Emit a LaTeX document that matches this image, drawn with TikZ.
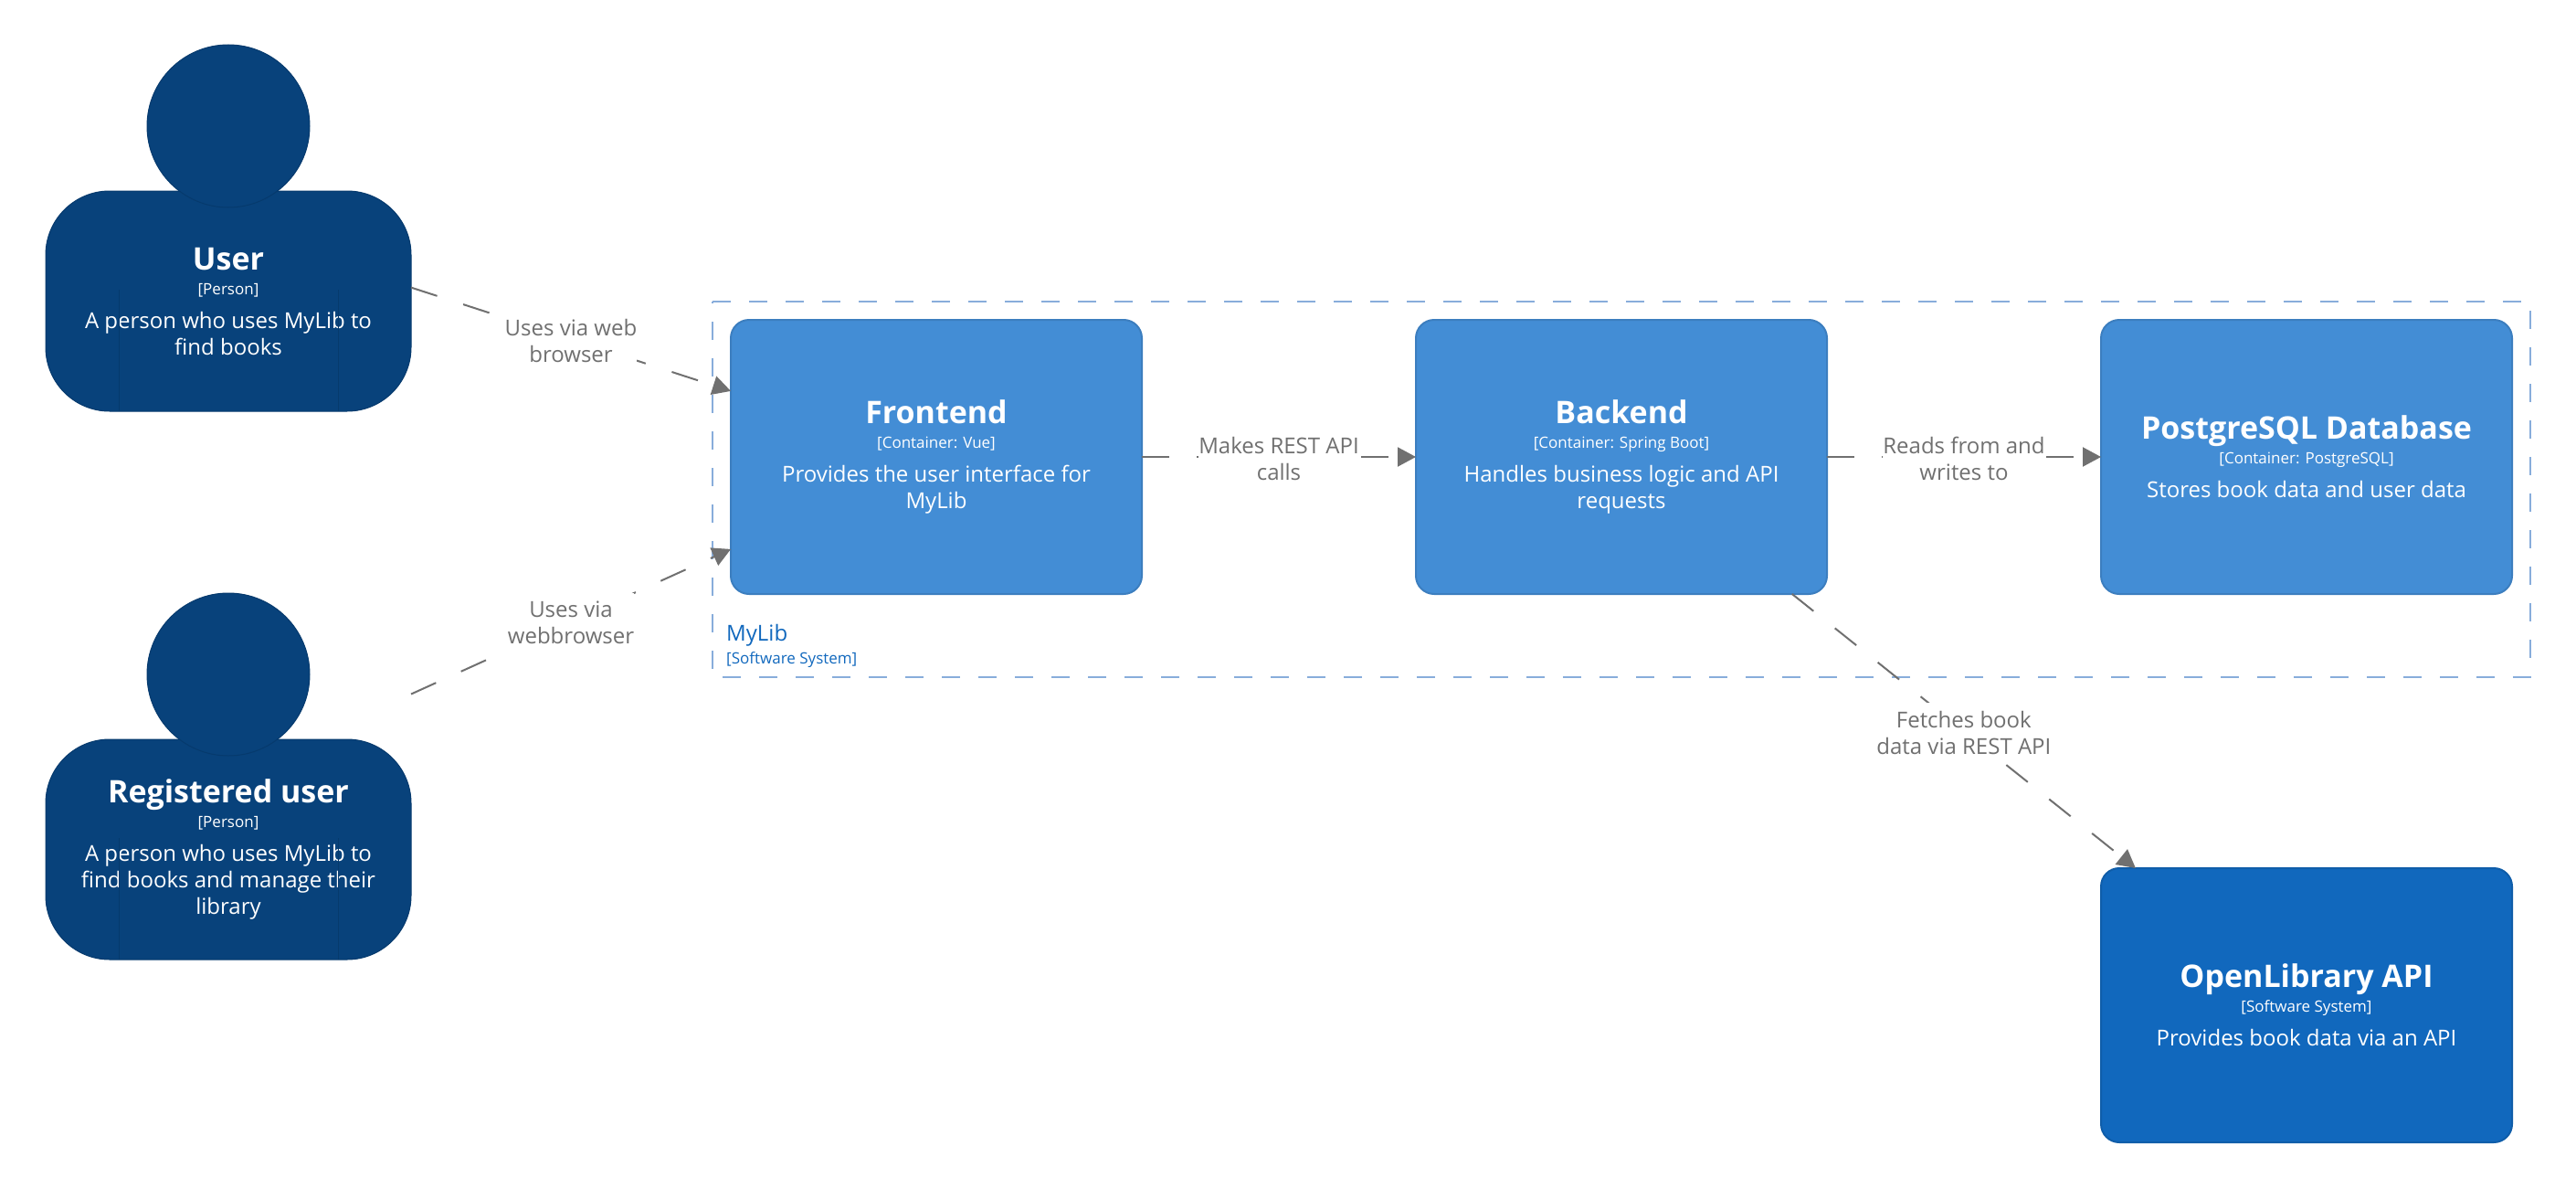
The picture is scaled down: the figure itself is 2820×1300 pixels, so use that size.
\documentclass[tikz,border=0pt]{standalone}
\usepackage{fontspec}
\setmainfont{Open Sans}
\usetikzlibrary{positioning,arrows.meta}

\definecolor{personblue}{HTML}{08427B}
\definecolor{personedge}{HTML}{063A6D}
\definecolor{contblue}{HTML}{438DD5}
\definecolor{contedge}{HTML}{3C7EBF}
\definecolor{sysblue}{HTML}{1168BD}
\definecolor{sysedge}{HTML}{0F5DA9}
\definecolor{groupedge}{HTML}{88ADDB}
\definecolor{linkgray}{HTML}{707070}

\newcommand{\fname}{\fontsize{34}{34}\selectfont\bfseries}
\newcommand{\fmeta}{\fontsize{17}{20}\selectfont}
\newcommand{\fdesc}{\fontsize{24}{29}\selectfont}
% name and type line, the description follows
\newcommand{\elemhead}[2]{\fname #1\\[-2pt] \fmeta #2\\[8pt]}

\tikzset{
  elembox/.style={rectangle,rounded corners=20pt,line width=2pt,text=white,align=center,font=\fdesc,
    inner sep=0pt,outer sep=0pt,minimum width=450pt,minimum height=300pt},
  container/.style={elembox,fill=contblue,draw=contedge},
  extsystem/.style={elembox,fill=sysblue,draw=sysedge},
  personarea/.style={rectangle,inner sep=0pt,outer sep=0pt,minimum width=400pt,minimum height=400pt},
  personbody/.style={rectangle,rounded corners=70pt,fill=personblue,draw=personedge,line width=1pt,font=\fdesc,
    text=white,align=center,inner sep=0pt,outer sep=0pt,minimum width=400pt,minimum height=241pt},
  personhead/.style={circle,fill=personblue,draw=personedge,line width=1pt,inner sep=0pt,minimum size=178pt},
  armline/.style={draw=personedge,line width=1pt},
  boundary/.style={draw=groupedge,line width=2pt,dash pattern=on 20pt off 20pt},
  link/.style={draw=linkgray,line width=2pt,dash pattern=on 30pt off 30pt,
    -{Triangle[length=20pt,width=21pt,fill=linkgray]}},
  linklabel/.style={fill=white,text=linkgray,align=center,inner xsep=0pt,inner ysep=0pt,minimum height=65pt,
    font=\fdesc,yshift=-1.5pt},
}

\begin{document}
\begin{tikzpicture}[x=1pt,y=-1pt]
\useasboundingbox (0,0) rectangle (2820,1300);

% Software system boundary
\draw[boundary] (780,330) -- (2770,330) -- (2770,741) -- (780,741) -- cycle;
\node[anchor=west,inner sep=0pt,text=sysblue,font=\fdesc] (mylibname) at (795,695) {MyLib};
\node[anchor=west,inner sep=0pt,text=sysblue,font=\fmeta] (mylibtype) at (795,722) {[Software System]};

% Persons
\node[personarea] (user) at (250,250) {};
\node[personbody] (userbody) at (250,329.5) {\elemhead{User}{[Person]}A person who uses MyLib to\\ find books};
\node[personhead] (userhead) at (250,138) {};
\draw[armline] (130,317) -- (130,450);
\draw[armline] (370,317) -- (370,450);

\node[personarea] (reguser) at (250,850) {};
\node[personbody] (regbody) at (250,929.5) {\elemhead{Registered user}{[Person]}A person who uses MyLib to\\ find books and manage their\\ library};
\node[personhead] (reghead) at (250,738) {};
\draw[armline] (130,917) -- (130,1050);
\draw[armline] (370,917) -- (370,1050);

% Containers
\node[container] (frontend) at (1025,500) {\elemhead{Frontend}{[Container: Vue]}Provides the user interface for\\ MyLib};
\node[container] (backend) at (1775,500) {\elemhead{Backend}{[Container: Spring Boot]}Handles business logic and API\\ requests};
\node[container] (database) at (2525,500) {\elemhead{PostgreSQL Database}{[Container: PostgreSQL]}Stores book data and user data};
\node[extsystem] (openlibrary) at (2525,1100) {\elemhead{OpenLibrary API}{[Software System]}Provides book data via an API};

% Relationships
\draw[link] (user) -- node[linklabel] (userlabel) {Uses via web\\ browser} (frontend);
\draw[link] (reguser) -- node[linklabel] (reglabel) {Uses via\\ webbrowser} (frontend);
\draw[link] (frontend) -- node[linklabel] (restlabel) {Makes REST API\\ calls} (backend);
\draw[link] (backend) -- node[linklabel] (dblabel) {Reads from and\\ writes to} (database);
\draw[link] (backend) -- node[linklabel] (fetchlabel) {Fetches book\\ data via REST API} (openlibrary);
\end{tikzpicture}
\end{document}
